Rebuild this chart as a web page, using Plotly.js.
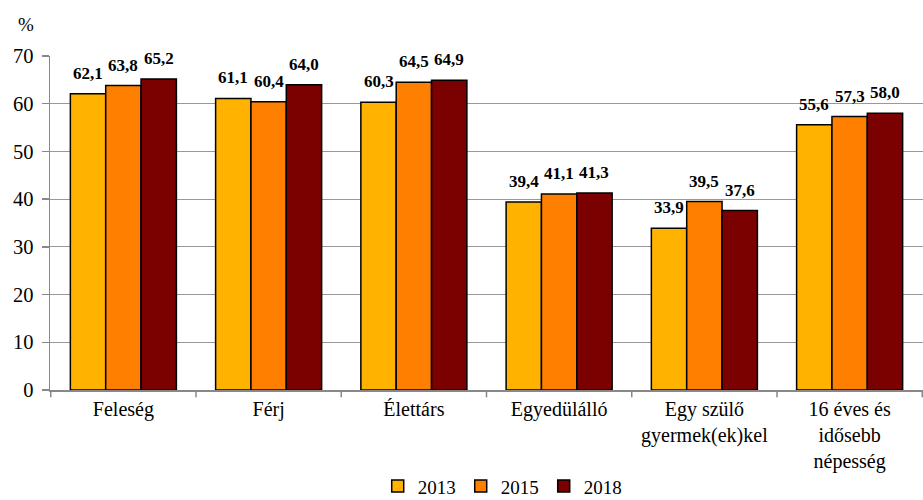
<!DOCTYPE html>
<html>
<head>
<meta charset="utf-8">
<script src="https://cdn.plot.ly/plotly-3.0.1.min.js"></script>
<style>html,body{margin:0;padding:0;background:#fff;}#chart{width:923px;height:500px;}</style>
</head>
<body>
<div id="chart"></div>
<script>
const categories = ["Feleség", "Férj", "Élettárs", "Egyedülálló", "Egy szülő<br>gyermek(ek)kel", "16 éves és<br>idősebb<br>népesség"];
const seriesNames = ["2013", "2015", "2018"];
const values2013 = [62.1, 61.1, 60.3, 39.4, 33.9, 55.6];
const values2015 = [63.8, 60.4, 64.5, 41.1, 39.5, 57.3];
const values2018 = [65.2, 64.0, 64.9, 41.3, 37.6, 58.0];
const yTicks = [0, 10, 20, 30, 40, 50, 60, 70];
const colors = ["#FFB300", "#FF8000", "#7B0000"];

const SERIF = "Times New Roman, Times, serif";
const BARGAP = 0.27;
const fmt = v => v.toFixed(1).replace('.', ',');
const allVals = [values2013, values2015, values2018];
const traces = allVals.map((vals, i) => ({
  type: 'bar',
  name: seriesNames[i],
  x: categories,
  y: vals,
  marker: {color: colors[i], line: {color: '#000', width: 1.5}},
  hoverinfo: 'none'
}));

// value labels above each bar, positioned from the data and the bar layout
const barW = (1 - BARGAP) / allVals.length;
const labelAnns = [];
allVals.forEach((vals, j) => {
  vals.forEach((v, i) => {
    labelAnns.push({
      xref: 'x', yref: 'y', x: i + (j - (allVals.length - 1) / 2) * barW, y: v,
      text: '<b>' + fmt(v) + '</b>', showarrow: false, xanchor: 'center', yanchor: 'bottom', yshift: 9,
      font: {family: SERIF, size: 17, color: '#000'}
    });
  });
});

const layout = {
  width: 923, height: 500,
  margin: {l: 50, r: 0, t: 56, b: 110, autoexpand: false},
  paper_bgcolor: '#fff', plot_bgcolor: '#fff',
  font: {family: SERIF, size: 16, color: '#000'},
  barmode: 'group',
  bargap: BARGAP,
  bargroupgap: 0,
  showlegend: true,
  legend: {orientation: 'h', x: 0.518, xanchor: 'center', y: -0.345, yanchor: 'bottom',
           font: {family: SERIF, size: 19, color: '#000'}, traceorder: 'normal', itemwidth: 30,
           tracegroupgap: 0},
  xaxis: {
    type: 'category',
    showline: true, linecolor: '#888', linewidth: 1.5,
    ticks: '', showgrid: false,
    tickfont: {family: SERIF, size: 20, color: '#000'},
    zeroline: false, automargin: false
  },
  yaxis: {
    range: [0, 70], tickvals: yTicks, ticktext: yTicks.map(String),
    showline: true, linecolor: '#888', linewidth: 1.5,
    ticks: 'outside', ticklen: 7, tickcolor: '#888', tickwidth: 1.5,
    ticklabelstandoff: 4,
    showgrid: true, gridcolor: '#999', gridwidth: 1,
    tickfont: {family: SERIF, size: 20.5, color: '#000'},
    zeroline: false, automargin: false
  },
  annotations: [{text: '%', xref: 'paper', yref: 'paper', x: -0.0275, y: 1.093, xanchor: 'center', yanchor: 'middle',
                 showarrow: false, font: {family: SERIF, size: 19, color: '#000'}}].concat(labelAnns),
  shapes: [-0.5].concat(categories.map((c, i) => i + 0.5)).map(xv => ({
    type: 'line', xref: 'x', yref: 'paper', x0: xv, x1: xv, y0: 0, y1: -0.022,
    line: {color: '#888', width: 1.5}
  }))
};

Plotly.newPlot('chart', traces, layout, {displayModeBar: false, staticPlot: true});
</script>
</body>
</html>
